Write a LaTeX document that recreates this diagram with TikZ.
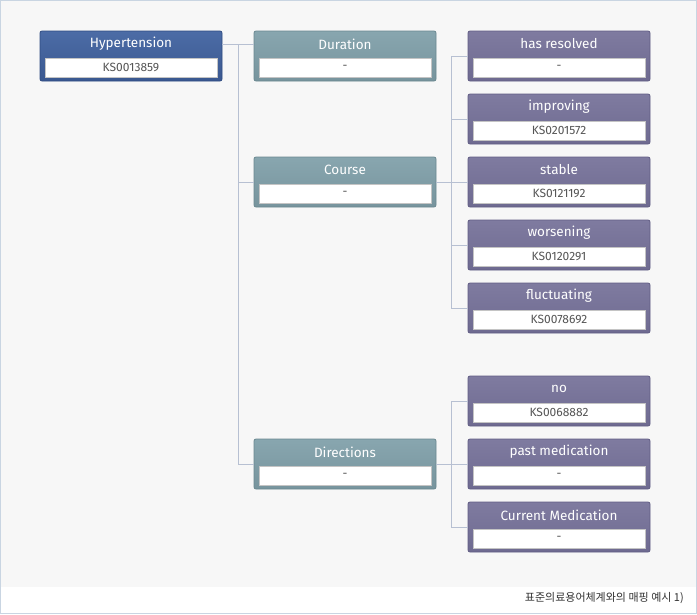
\documentclass[tikz,border=0pt]{standalone}
\usepackage{fontspec}
\setmainfont{Fira Sans}
\newfontfamily\krfont{Noto Sans CJK KR}
\usetikzlibrary{calc}
\definecolor{bgc}{HTML}{F7F7F7}
\definecolor{framec}{HTML}{C9D5E2}
\definecolor{linec}{HTML}{B7C0D2}
\definecolor{hypA}{HTML}{4C6CA6}
\definecolor{hypB}{HTML}{3A5890}
\definecolor{hypD}{HTML}{2F4C82}
\definecolor{midA}{HTML}{88A6AF}
\definecolor{midB}{HTML}{77949D}
\definecolor{midD}{HTML}{6A8890}
\definecolor{leafA}{HTML}{7F7BA0}
\definecolor{leafB}{HTML}{6E6A90}
\definecolor{leafD}{HTML}{615D84}
\definecolor{codec}{HTML}{555555}
\definecolor{capc}{HTML}{333333}
\definecolor{innerd}{HTML}{C4C4C4}
\tikzset{
  x=1pt, y=-1pt,
  outerbox/.style={rectangle, rounded corners=2pt, minimum width=182pt, minimum height=50pt, inner sep=0pt, line width=0.8pt},
  hypbox/.style={outerbox, top color=hypA, bottom color=hypB, draw=hypD},
  midbox/.style={outerbox, top color=midA, bottom color=midB, draw=midD},
  leafbox/.style={outerbox, top color=leafA, bottom color=leafB, draw=leafD},
  titletext/.style={text=white, font=\fontsize{13.5}{15}\selectfont, inner sep=0pt},
  codebox/.style={rectangle, fill=white, draw=innerd, line width=0.6pt, minimum width=172pt, minimum height=19pt, inner sep=0pt, text=codec, font=\fontsize{12}{13}\selectfont},
  conn/.style={draw=linec, line width=0.9pt},
}
\newcommand{\mybox}[6]{%
  \node[#4] (#1) at (#2+91, #3+25) {};
  \node[titletext] (#1t) at (#2+91, #3+13) {#5};
  \node[codebox] (#1c) at (#2+91, #3+36.5) {#6};
}
\begin{document}
\begin{tikzpicture}
\useasboundingbox (0,0) rectangle (697,614);
\fill[white] (0,0) rectangle (697,614);
\fill[bgc] (0,0) rectangle (697,587);
\draw[framec, line width=1pt] (0.5,0.5) rectangle (696.5,613.5);

\mybox{hyp}{40}{31}{hypbox}{Hypertension}{KS0013859}
\mybox{dur}{254}{31}{midbox}{Duration}{-}
\mybox{cou}{254}{157}{midbox}{Course}{-}
\mybox{dir}{254}{439}{midbox}{Directions}{-}
\mybox{has}{468}{31}{leafbox}{has resolved}{-}
\mybox{imp}{468}{94}{leafbox}{improving}{KS0201572}
\mybox{sta}{468}{157}{leafbox}{stable}{KS0121192}
\mybox{wor}{468}{220}{leafbox}{worsening}{KS0120291}
\mybox{flu}{468}{283}{leafbox}{fluctuating}{KS0078692}
\mybox{no}{468}{376}{leafbox}{no}{KS0068882}
\mybox{pas}{468}{439}{leafbox}{past medication}{-}
\mybox{cur}{468}{502}{leafbox}{Current Medication}{-}

\coordinate (t1) at (238,44);
\draw[conn] (hyp.east |- t1) -- (dur.west |- t1);
\draw[conn] (t1) |- (cou.west);
\draw[conn] (t1) |- (dir.west);

\draw[conn] (cou.east) -- (sta.west);
\draw[conn] (has.west) -- ++(-16,0) |- (flu.west);
\draw[conn] (imp.west) -- ++(-16,0);
\draw[conn] (wor.west) -- ++(-16,0);

\draw[conn] (dir.east) -- (pas.west);
\draw[conn] (no.west) -- ++(-16,0) |- (cur.west);

\node[anchor=east, text=capc, font=\krfont\fontsize{11}{13}\selectfont, inner sep=0pt] (cap) at (684,598) {표준의료용어체계와의 매핑 예시 1)};
\end{tikzpicture}
\end{document}
